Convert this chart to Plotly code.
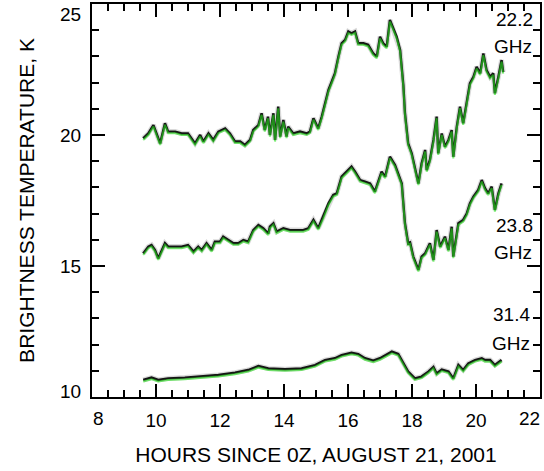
import plotly.graph_objects as go

# Brightness temperature time series (hours since 0Z, kelvin)
hours_222 = [9.60, 9.76, 9.92, 10.02, 10.13, 10.28, 10.38, 10.60, 10.80, 11.00,
             11.22, 11.38, 11.48, 11.64, 11.79, 11.95, 12.16, 12.31, 12.47, 12.63,
             12.78, 12.94, 13.04, 13.20, 13.30, 13.40, 13.50, 13.56, 13.67, 13.72,
             13.82, 13.88, 13.98, 14.08, 14.13, 14.29, 14.50, 14.71, 14.81, 14.92,
             15.07, 15.18, 15.28, 15.39, 15.49, 15.59, 15.70, 15.80, 15.91, 16.01,
             16.11, 16.22, 16.32, 16.48, 16.63, 16.79, 16.90, 17.00, 17.10, 17.21,
             17.31, 17.42, 17.52, 17.63, 17.73, 17.78, 17.88, 17.99, 18.09, 18.20,
             18.30, 18.41, 18.46, 18.56, 18.67, 18.77, 18.82, 18.93, 19.03, 19.14,
             19.24, 19.29, 19.40, 19.50, 19.60, 19.71, 19.81, 19.92, 20.02, 20.13,
             20.23, 20.33, 20.44, 20.54, 20.59, 20.70, 20.80, 20.85]
temp_222 = [19.87, 20.06, 20.38, 20.06, 19.68, 20.45, 20.13, 20.13, 20.06, 20.06,
            19.68, 20.00, 19.75, 20.06, 19.81, 20.13, 20.25, 20.06, 19.75, 19.75,
            19.62, 19.81, 20.19, 20.38, 20.83, 20.19, 20.70, 20.00, 20.83, 19.81,
            21.08, 19.94, 20.57, 19.94, 20.32, 20.06, 20.13, 20.06, 20.13, 20.64,
            20.25, 20.70, 21.21, 21.72, 22.03, 22.35, 22.99, 23.50, 23.63, 23.95,
            23.88, 23.95, 23.50, 23.50, 23.44, 23.11, 22.99, 23.75, 23.50, 23.37,
            24.39, 24.01, 23.75, 23.24, 21.90, 20.83, 19.68, 19.30, 18.79, 18.15,
            18.91, 19.43, 18.66, 19.05, 19.81, 20.70, 19.30, 20.06, 19.55, 19.81,
            20.19, 19.17, 20.32, 21.08, 20.45, 21.21, 21.97, 22.22, 22.60, 22.35,
            23.11, 22.48, 22.22, 22.35, 21.59, 22.22, 22.86, 22.40]

hours_238 = [9.60, 9.76, 9.86, 9.97, 10.07, 10.18, 10.28, 10.38, 10.60, 10.80,
             11.00, 11.17, 11.32, 11.43, 11.58, 11.74, 11.84, 12.00, 12.10, 12.26,
             12.42, 12.57, 12.73, 12.88, 13.04, 13.20, 13.35, 13.51, 13.56, 13.67,
             13.77, 13.98, 14.19, 14.40, 14.60, 14.76, 14.92, 15.07, 15.23, 15.39,
             15.54, 15.65, 15.80, 15.96, 16.11, 16.22, 16.38, 16.53, 16.69, 16.84,
             16.95, 17.05, 17.16, 17.31, 17.47, 17.57, 17.68, 17.78, 17.88, 17.94,
             18.04, 18.20, 18.30, 18.41, 18.56, 18.67, 18.77, 18.88, 19.03, 19.14,
             19.24, 19.29, 19.45, 19.60, 19.71, 19.81, 19.92, 20.07, 20.18, 20.28,
             20.38, 20.49, 20.59, 20.70, 20.80]
temp_238 = [15.48, 15.74, 15.80, 15.61, 15.29, 15.61, 15.87, 15.74, 15.74, 15.74,
            15.80, 15.55, 15.74, 15.61, 15.87, 15.61, 15.93, 15.93, 16.12, 15.99,
            15.87, 15.87, 15.99, 15.93, 16.37, 16.56, 16.44, 16.24, 16.50, 16.63,
            16.31, 16.44, 16.37, 16.37, 16.37, 16.44, 16.76, 16.44, 16.88, 17.39,
            17.71, 17.77, 18.41, 18.60, 18.79, 18.60, 18.28, 18.22, 18.15, 17.84,
            18.28, 18.60, 18.41, 19.17, 18.85, 18.54, 18.15, 16.63, 15.87, 15.90,
            15.36, 14.85, 15.36, 15.48, 15.87, 15.23, 16.37, 15.74, 16.12, 15.61,
            16.50, 15.36, 16.63, 16.76, 17.00, 17.39, 17.65, 17.90, 18.28, 17.97,
            17.77, 18.03, 17.14, 17.77, 18.15]

hours_314 = [9.60, 9.86, 10.07, 10.38, 10.90, 11.43, 11.95, 12.47, 12.88, 13.20,
             13.51, 14.03, 14.55, 14.97, 15.28, 15.59, 15.80, 16.11, 16.32, 16.53,
             16.79, 17.00, 17.16, 17.37, 17.57, 17.73, 17.88, 18.09, 18.30, 18.51,
             18.67, 18.77, 18.93, 19.14, 19.29, 19.45, 19.60, 19.76, 19.97, 20.18,
             20.28, 20.44, 20.59, 20.80]
temp_314 = [10.65, 10.74, 10.65, 10.71, 10.74, 10.78, 10.84, 10.93, 11.03, 11.18,
            11.09, 11.06, 11.09, 11.22, 11.41, 11.48, 11.60, 11.69, 11.64, 11.48,
            11.39, 11.48, 11.60, 11.73, 11.64, 11.28, 10.97, 10.71, 10.78, 10.97,
            11.15, 10.90, 11.05, 10.97, 10.71, 11.22, 11.03, 11.28, 11.41, 11.48,
            11.41, 11.41, 11.22, 11.41]

# Channel labels: (text, hour of right edge, temperature)
labels = [("22.2", 21.85, 24.39), ("GHz", 21.8, 23.36),
          ("23.8", 21.85, 16.56), ("GHz", 21.8, 15.5),
          ("31.4", 21.75, 13.13), ("GHz", 21.75, 12.06)]

# Axis ticks
x_ticks = [8, 10, 12, 14, 16, 18, 20, 22]
y_ticks = [10, 15, 20, 25]
x_range = [x_ticks[0], x_ticks[-1]]
y_range = [y_ticks[0], y_ticks[-1]]
glow_shift = 0.06  # green trace sits a pixel or two below the black one

FONT = "Liberation Sans, Arial, sans-serif"
TICK_SIZE = 19

fig = go.Figure()
for hrs, tmp in [(hours_222, temp_222), (hours_238, temp_238), (hours_314, temp_314)]:
    fig.add_trace(go.Scatter(x=hrs, y=tmp, mode="lines", yaxis="y2",
                             line=dict(color="rgba(40,225,30,0.6)", width=2),
                             hoverinfo="skip", showlegend=False))
    fig.add_trace(go.Scatter(x=hrs, y=tmp, mode="lines",
                             line=dict(color="rgba(0,0,0,0.15)", width=5),
                             hoverinfo="skip", showlegend=False))
    fig.add_trace(go.Scatter(x=hrs, y=tmp, mode="lines",
                             line=dict(color="#151515", width=2.4),
                             showlegend=False))

for text, hx, ty in labels:
    fig.add_annotation(x=hx, y=ty, text=text, showarrow=False, xanchor="right",
                       yanchor="middle", font=dict(family=FONT, size=TICK_SIZE, color="black"))

# End-of-axis tick labels are nudged inward so they stay inside the page
edge_font = dict(family=FONT, size=TICK_SIZE, color="black")
fig.add_annotation(x=x_range[0], y=y_range[1], text=str(y_ticks[-1]), showarrow=False,
                   xanchor="right", yanchor="middle", xshift=-9, yshift=-10, font=edge_font)
fig.add_annotation(x=x_range[0], y=y_range[0], text=str(y_ticks[0]), showarrow=False,
                   xanchor="right", yanchor="middle", xshift=-9, yshift=6, font=edge_font)
fig.add_annotation(x=x_range[0], y=y_range[0], text=str(x_ticks[0]), showarrow=False,
                   xanchor="center", yanchor="middle", xshift=6, yshift=-21, font=edge_font)
fig.add_annotation(x=x_range[1], y=y_range[0], text=str(x_ticks[-1]), showarrow=False,
                   xanchor="center", yanchor="middle", xshift=-11, yshift=-21, font=edge_font)

axis_common = dict(showgrid=False, zeroline=False, showline=True, linecolor="black",
                   linewidth=2, mirror="ticks", ticks="inside", ticklen=13,
                   tickwidth=1.5, tickcolor="black", tickfont=dict(size=TICK_SIZE),
                   ticklabelstandoff=5, ticklabeloverflow="allow", automargin=False,
                   tickmode="array")

fig.update_layout(
    width=544, height=471,
    margin=dict(l=92, r=4, t=4, b=74, autoexpand=False),
    paper_bgcolor="white", plot_bgcolor="white",
    font=dict(family=FONT, color="black"),
    xaxis=dict(range=x_range, tickvals=x_ticks,
               ticktext=[""] + [str(v) for v in x_ticks[1:-1]] + [""],
               minor=dict(dtick=0.5, tick0=8, ticks="inside", ticklen=7, tickwidth=1.5,
                          tickcolor="black", showgrid=False),
               title=dict(text="HOURS SINCE 0Z, AUGUST 21, 2001",
                          font=dict(size=21), standoff=18),
               **axis_common),
    yaxis=dict(range=y_range, tickvals=y_ticks,
               ticktext=[""] + [str(v) for v in y_ticks[1:-1]] + [""],
               minor=dict(dtick=1, tick0=10, ticks="inside", ticklen=7, tickwidth=1.5,
                          tickcolor="black", showgrid=False),
               title=dict(text="BRIGHTNESS TEMPERATURE, K",
                          font=dict(size=21), standoff=20),
               **axis_common),
    yaxis2=dict(range=[y_range[0] + glow_shift, y_range[1] + glow_shift],
                overlaying="y", visible=False),
)

fig.write_html("out.html")
